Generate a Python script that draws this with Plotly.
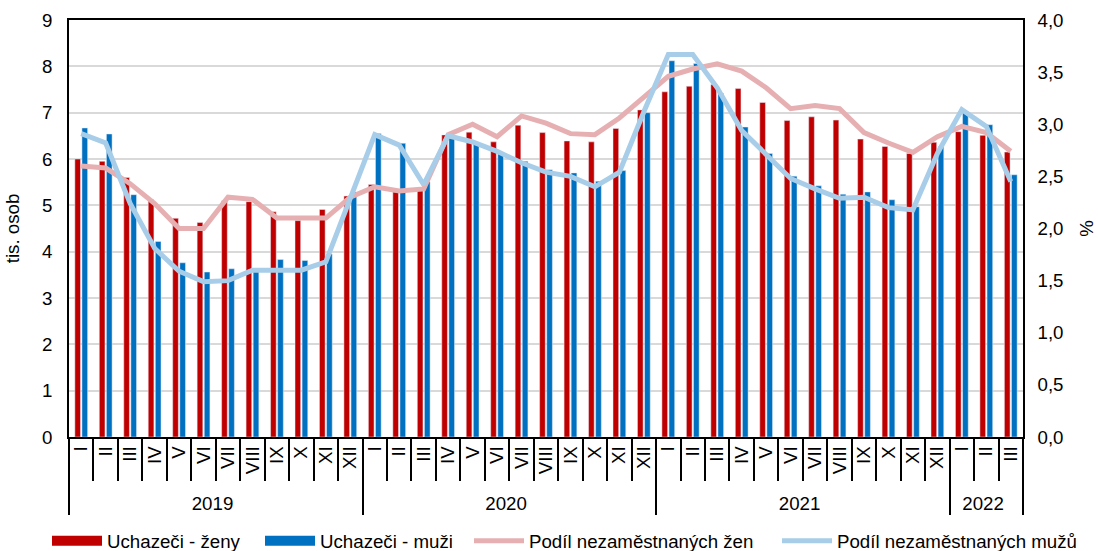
import plotly.graph_objects as go

years = ["2019"] * 12 + ["2020"] * 12 + ["2021"] * 12 + ["2022"] * 3
roman = ["I", "II", "III", "IV", "V", "VI", "VII", "VIII", "IX", "X", "XI", "XII"]
months = roman * 3 + roman[:3]

zeny = [6.0, 5.95, 5.6, 5.12, 4.72, 4.63, 5.1, 5.08, 4.86, 4.67, 4.91, 5.2,
        5.45, 5.29, 5.32, 6.52, 6.58, 6.37, 6.73, 6.57, 6.39, 6.37, 6.66, 7.06,
        7.45, 7.57, 7.61, 7.52, 7.22, 6.83, 6.91, 6.84, 6.43, 6.27, 6.12, 6.36,
        6.59, 6.51, 6.15]
muzi = [6.67, 6.54, 5.23, 4.22, 3.76, 3.56, 3.63, 3.62, 3.83, 3.81, 3.95, 5.29,
        6.55, 6.34, 5.51, 6.48, 6.34, 6.11, 5.95, 5.77, 5.70, 5.52, 5.75, 7.0,
        8.12, 8.06, 7.42, 6.69, 6.12, 5.63, 5.42, 5.24, 5.29, 5.12, 4.97, 6.27,
        7.02, 6.74, 5.66]
podil_zen = [2.6, 2.58, 2.43, 2.24, 2.0, 2.0, 2.3, 2.28, 2.1, 2.1, 2.1, 2.3,
             2.4, 2.36, 2.38, 2.9, 3.0, 2.88, 3.08, 3.01, 2.91, 2.9, 3.06, 3.26,
             3.46, 3.53, 3.58, 3.51, 3.35, 3.15, 3.18, 3.15, 2.92, 2.82, 2.73, 2.88,
             2.98, 2.92, 2.74]
podil_muzu = [2.91, 2.82, 2.24, 1.81, 1.59, 1.49, 1.5, 1.6, 1.6, 1.6, 1.68, 2.3,
              2.9, 2.8, 2.42, 2.89, 2.83, 2.74, 2.63, 2.54, 2.5, 2.4, 2.54, 3.12,
              3.67, 3.67, 3.35, 2.94, 2.71, 2.48, 2.38, 2.29, 2.3, 2.2, 2.18, 2.72,
              3.14, 2.98, 2.45]

names = ["Uchazeči - ženy", "Uchazeči - muži", "Podíl nezaměstnaných žen", "Podíl nezaměstnaných mužů"]
colors = ["#C00000", "#0070C0", "#E6B0B2", "#A7CDE9"]
legend_x = [47, 260, 469, 777]

x = [years, months]
font = "Liberation Sans, Arial, sans-serif"
fs = 18.7

fig = go.Figure()
fig.add_trace(go.Bar(x=x, y=zeny, name=names[0], marker_color=colors[0], showlegend=False))
fig.add_trace(go.Bar(x=x, y=muzi, name=names[1], marker_color=colors[1], showlegend=False))
fig.add_trace(go.Scatter(x=x, y=podil_zen, name=names[2], mode="lines",
                         line=dict(color=colors[2], width=5), yaxis="y2", showlegend=False))
fig.add_trace(go.Scatter(x=x, y=podil_muzu, name=names[3], mode="lines",
                         line=dict(color=colors[3], width=5), yaxis="y2", showlegend=False))

# legend entries (one legend per entry for exact placement)
legend_widths = [10, 10, 5, 5]
legend_ids = ["legend", "legend2", "legend3", "legend4"]
for i in range(4):
    fig.add_trace(go.Scatter(x=[None], y=[None], mode="lines", name=names[i],
                             line=dict(color=colors[i], width=legend_widths[i]),
                             legend=legend_ids[i], showlegend=True))

legend_common = dict(orientation="h", xref="container", yref="container", xanchor="left",
                     yanchor="middle", y=0.018, font=dict(size=fs, family=font),
                     itemwidth=50, bgcolor="rgba(0,0,0,0)")

fig.update_layout(
    width=1098, height=551,
    margin=dict(l=69, r=75, t=20, b=114, autoexpand=False),
    plot_bgcolor="white", paper_bgcolor="white",
    font=dict(family=font, size=fs, color="black"),
    separators=", ",
    barmode="group", bargap=0.42, bargroupgap=0.2,
    legend=dict(x=legend_x[0] / 1098, **legend_common),
    legend2=dict(x=legend_x[1] / 1098, **legend_common),
    legend3=dict(x=legend_x[2] / 1098, **legend_common),
    legend4=dict(x=legend_x[3] / 1098, **legend_common),
    xaxis=dict(type="multicategory", tickangle=-90, showline=True, linecolor="black",
               linewidth=1.5, mirror=True, ticks="outside", tickson="boundaries",
               ticklen=42, tickcolor="black", tickwidth=1.5, showdividers=True,
               dividercolor="black", dividerwidth=1.5, showgrid=False,
               tickfont=dict(size=fs), automargin=False),
    yaxis=dict(range=[0, 9], dtick=1, showline=True, linecolor="black", linewidth=1.5,
               gridcolor="#D9D9D9", gridwidth=1.5, zeroline=False, ticks="",
               ticklabelstandoff=11, automargin=False,
               title=dict(text="tis. osob", font=dict(size=fs), standoff=18)),
    yaxis2=dict(range=[0, 4], dtick=0.5, tickformat=".1f", overlaying="y", side="right",
                showline=True, linecolor="black", linewidth=1.5, showgrid=False,
                zeroline=False, ticks="", ticklabelstandoff=9, automargin=False,
                title=dict(text="%", font=dict(size=fs), standoff=17)),
)

fig.write_html("out.html", config={"displayModeBar": False},
               post_script="document.body.style.margin='0';document.body.style.overflow='hidden';")
